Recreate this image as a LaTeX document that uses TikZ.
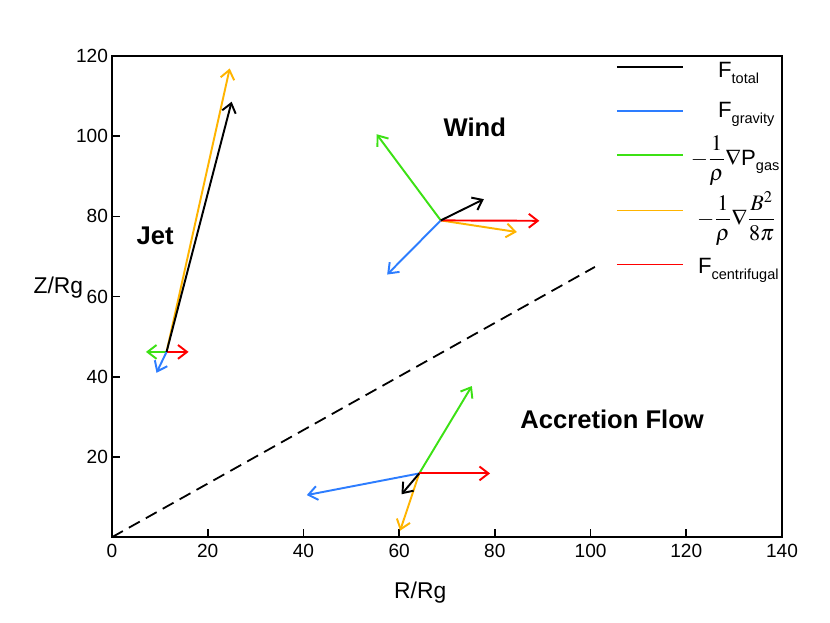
\documentclass[tikz,border=0pt]{standalone}
\usepackage{amsmath}
\usepackage{mathptmx}
\usepackage{fontspec}
\setmainfont{Liberation Sans}
\usetikzlibrary{arrows.meta}

\definecolor{cgrav}{RGB}{45,125,255}
\definecolor{cgas}{RGB}{60,225,20}
\definecolor{cmag}{RGB}{255,180,0}
\definecolor{ccen}{RGB}{255,0,0}

\newcommand{\lowtxt}[1]{\raisebox{-0.5ex}{\fontsize{10.5}{12}\selectfont #1}}

\begin{document}
\begin{tikzpicture}[
  x=0.12157cm, y=0.10185cm,
  frame/.style={line width=1.8pt, line cap=rect},
  vec/.style={-{Straight Barb[length=6.5pt,width=10pt]}, line width=1.4pt},
  swatch/.style={line width=1.1pt},
  ticklab/.style={font=\fontsize{13.8}{16}\selectfont, inner sep=1pt},
  region/.style={font=\fontsize{18.5}{20}\selectfont\bfseries},
  leg/.style={font=\fontsize{16}{18}\selectfont, inner sep=0pt}
]
\useasboundingbox (-23.4,-21.2) rectangle (150.03,133.97);

% Axes box and ticks
\draw[frame] (0,0) rectangle (140,120);
\foreach \x in {20,40,...,120}
  \draw[line width=1.2pt] (\x,0) -- ++(0,6pt);
\foreach \y in {20,40,...,100}
  \draw[line width=1.2pt] (0,\y) -- ++(6pt,0);
\foreach \x in {0,20,...,140}
  \node[ticklab, anchor=north] (xl\x) at (\x,-1.3) {\x};
\foreach \y in {20,40,...,120}
  \node[ticklab, anchor=east] (yl\y) at (-0.5,\y) {\y};
\node[font=\fontsize{16.5}{18}\selectfont] (xlab) at (64.4,-13.7) {R/Rg};
\node[font=\fontsize{16.5}{18}\selectfont] (ylab) at (-11.2,62.3) {Z/Rg};

% Disk surface
\coordinate (o) at (0,0);
\coordinate (surf) at (100.9,67.4);
\draw[line width=1.3pt, dash pattern=on 9pt off 5pt] (o) -- (surf);

% Region labels
\node[region] (jetlab) at (9.0,75.1) {Jet};
\node[region] (windlab) at (75.8,102.2) {Wind};
\node[region] (acclab) at (104.5,29.4) {Accretion Flow};

% Jet
\coordinate (jet) at (11.4,46.2);
\coordinate (jetMag) at (24.6,116.9);
\coordinate (jetTot) at (25.0,108.6);
\coordinate (jetGas) at (7.1,46.2);
\coordinate (jetCen) at (16.0,46.2);
\coordinate (jetGrav) at (9.3,41.0);
\draw[vec, cmag] (jet) -- (jetMag);
\draw[vec, cgas] (jet) -- (jetGas);
\draw[vec, ccen] (jet) -- (jetCen);
\draw[vec, cgrav] (jet) -- (jetGrav);
\draw[vec, black] (jet) -- (jetTot);

% Wind
\coordinate (wind) at (68.7,79.0);
\coordinate (windGas) at (55.3,100.5);
\coordinate (windGrav) at (57.5,65.5);
\coordinate (windMag) at (84.6,76.1);
\coordinate (windCen) at (89.3,78.9);
\coordinate (windTot) at (77.7,84.3);
\draw[vec, cgas] (wind) -- (windGas);
\draw[vec, cgrav] (wind) -- (windGrav);
\draw[vec, cmag] (wind) -- (windMag);
\draw[vec, ccen] (wind) -- (windCen);
\draw[vec, black] (wind) -- (windTot);

% Accretion flow
\coordinate (acc) at (64.2,15.9);
\coordinate (accGas) at (75.2,37.7);
\coordinate (accGrav) at (40.7,10.5);
\coordinate (accCen) at (79.0,15.9);
\coordinate (accMag) at (60.2,1.6);
\coordinate (accTot) at (60.5,10.7);
\draw[vec, cgas] (acc) -- (accGas);
\draw[vec, cgrav] (acc) -- (accGrav);
\draw[vec, ccen] (acc) -- (accCen);
\draw[vec, cmag] (acc) -- (accMag);
\draw[vec, black] (acc) -- (accTot);

% Legend
\draw[swatch, black] (105.5,117.3) -- (119.3,117.3);
\draw[swatch, cgrav] (105.5,106.3) -- (119.3,106.3);
\draw[swatch, cgas] (105.5,95.3) -- (119.3,95.3);
\draw[swatch, cmag] (105.5,81.5) -- (119.3,81.5);
\draw[swatch, ccen] (105.5,68.0) -- (119.3,68.0);
\node[leg, anchor=base west] (ltot) at (126.6,114.6) {F\lowtxt{total}};
\node[leg, anchor=base west] (lgrav) at (126.6,104.7) {F\lowtxt{gravity}};
\node[leg, anchor=west] (lgas) at (120.9,94.0) {$\displaystyle -\frac{1}{\rho}\nabla$P\lowtxt{gas}};
\node[leg, anchor=west] (lmag) at (122.2,79.5) {$\displaystyle -\frac{1}{\rho}\nabla\frac{B^2}{8\pi}$};
\node[leg, anchor=base west] (lcen) at (122.4,65.8) {F\lowtxt{centrifugal}};

\end{tikzpicture}
\end{document}
